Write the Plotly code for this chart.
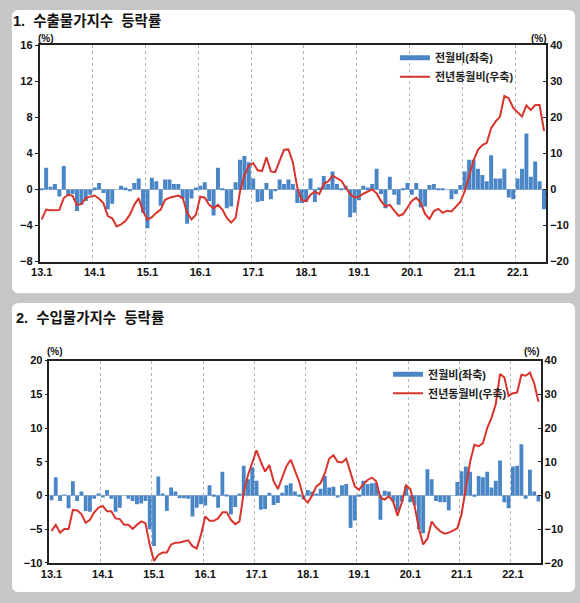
import plotly.graph_objects as go

W, H = 580, 603

# month labels 13.1 ... 22.7
months = [f"{y}.{m}" for y in range(13, 23) for m in range(1, 13)][:115]

# 1. export price index, % change
export_mom = [
    0.1, 2.4, 0.3, 0.6, -0.8, 2.6, -0.6, -0.5, -2.4, -1.7, -1.3, -0.6,
    0.2, 0.7, -0.4, -2.2, -1.6, 0.0, 0.4, 0.2, -0.2, 0.7, 1.2, -2.6,
    -4.3, 1.3, 0.9, -1.8, 1.1, 1.1, 0.6, 0.6, -1.0, -3.8, -1.0, 0.2,
    0.4, 0.8, -1.3, -2.9, 2.4, 0.1, -2.1, -1.9, 0.8, 3.3, 3.7, 3.0,
    1.2, -1.4, -1.3, 0.7, -1.1, -0.2, 1.1, 0.6, 1.1, 0.6, -1.5, -1.5,
    -1.4, 1.2, -1.4, 0.2, 1.5, 0.6, 2.0, 0.6, 0.1, 0.4, -3.1, -2.6,
    -1.2, 0.4, 0.2, 0.6, 2.3, -0.5, -2.1, 1.4, -0.6, -1.7, 0.1, 0.7,
    -0.6, 0.7, -2.0, -1.9, 0.5, 0.6, 0.1, 0.05, 0.0, -1.1, -0.5, 0.5,
    2.0, 3.3, 3.3, 2.3, 1.6, 0.9, 3.8, 1.2, 1.2, 2.3, -0.9, -1.1,
    1.2, 2.3, 6.2, 1.4, 3.1, 0.9, -2.2,
]
export_yoy = [
    -8.3, -5.6, -5.8, -5.8, -5.7, -2.4, -1.5, -1.8, -4.3, -4.1, -2.4, -2.0,
    -1.7, -2.6, -3.8, -7.4, -8.0, -10.3, -9.7, -8.8, -7.0, -4.3, -2.4, -6.1,
    -8.4, -7.7, -6.5, -5.6, -2.9, -2.3, -2.0, -1.7, -2.4, -6.5, -8.3, -7.0,
    -2.0, -2.3, -4.3, -5.2, -4.3, -5.6, -7.9, -9.2, -7.9, -0.6, 3.9, 6.6,
    7.3, 5.3, 5.1, 8.9, 5.0, 4.8, 8.0, 11.0, 11.1, 7.5, 0.5, -2.9,
    -3.3, -1.5, -0.6, -1.3, 1.5, 2.2, 3.8, 3.0, 2.4, 0.5, -1.3, -2.3,
    -2.0, -1.2, -0.5, 0.0, -1.1, -3.2, -4.7, -4.3, -5.9, -7.3, -6.9, -5.2,
    -3.2, -2.3, -3.7, -6.8, -8.2, -6.0, -5.4, -6.5, -5.9, -6.1, -4.8, -3.5,
    -0.5, 3.5, 8.0, 11.0, 12.3, 12.9, 17.0, 18.8, 20.2, 25.9, 25.3, 22.6,
    21.5, 20.2, 23.3, 22.0, 23.4, 23.4, 16.2,
]

# 2. import price index, % change
import_mom = [
    -0.7, 2.7, -0.8, 0.1, -1.9, 2.1, -0.8, 0.6, -2.3, -2.4, -0.5, 0.3,
    -0.3, 0.8, -0.5, -2.4, -1.8, 0.0, -0.5, -0.8, -1.3, -1.2, -0.8, -5.0,
    -7.5, 2.8, 0.2, -2.3, 1.2, 0.6, -0.4, -0.4, -0.5, -3.1, -1.8, -1.3,
    -1.5, 1.5, -0.2, -1.8, 3.5, -0.1, -2.8, -1.7, 0.2, 4.4, 2.4, 4.2,
    2.2, -2.1, -2.0, 0.4, -1.4, -1.1, 0.4, 1.5, 1.8, 0.6, -0.2, -0.6,
    0.8, 0.6, 0.3, 1.0, 2.9, 1.2, 1.3, -0.3, 1.5, 1.7, -4.8, -3.7,
    -0.2, 2.2, 1.7, 1.8, 1.9, -3.6, 0.7, 0.6, -0.9, -2.3, -0.9, 1.4,
    -1.0, -1.5, -5.0, -5.6, 3.9, 2.4, -0.8, -1.0, -1.0, -2.2, 0.0, 2.0,
    3.6, 4.3, 3.5, -0.2, 2.9, 2.7, 3.5, 1.2, 2.2, 5.2, -1.0, -1.9,
    4.3, 4.4, 7.6, -0.5, 3.8, 0.6, -0.9,
]
import_yoy = [
    -10.5, -8.7, -11.0, -9.9, -9.9, -4.3, -4.4, -5.5, -8.1, -7.2, -5.0, -3.6,
    -3.1, -4.7, -4.7, -6.8, -7.0, -8.7, -8.7, -9.9, -8.7, -7.7, -8.2, -14.7,
    -19.4, -17.6, -16.9, -16.9, -14.5, -14.0, -13.9, -13.6, -13.3, -15.0, -15.7, -11.6,
    -6.2, -7.5, -7.5, -6.8, -5.0, -5.0, -7.2, -8.5, -7.7, 0.8, 6.1, 9.7,
    13.4, 10.0, 7.1, 9.0, 4.2, 1.9, 5.1, 8.7, 10.6, 7.3, 4.0, -0.7,
    -2.1, 0.0, 2.7, 3.7, 6.6, 10.9, 11.9, 10.0, 9.8, 10.9, 7.1, 2.7,
    1.7, 3.4, 4.6, 5.3, 4.2, -0.7, -1.2, -0.2, -1.9, -6.0, -2.1, 3.0,
    1.9, -3.1, -9.7, -14.5, -12.8, -7.7, -9.4, -10.6, -11.3, -11.0, -10.4, -9.7,
    -5.5, 1.7, 10.0, 15.0, 14.6, 15.5, 20.0, 23.0, 27.0, 36.0, 35.0, 29.5,
    30.3, 30.5, 35.8, 35.5, 36.4, 33.2, 27.8,
]

BLUE = "#4a86c6"
RED = "#d8342c"
FONT = "Arial, 'Liberation Sans', 'Noto Sans CJK KR', sans-serif"

x_idx = list(range(len(months)))
year_idx = [i for i, m in enumerate(months) if m.split(".")[1] == "1"]
year_txt = [months[i] for i in year_idx]
year_bounds = [i - 0.5 for i in year_idx[1:]]


def px_x(v):
    return v / W


def px_y(v):
    return 1 - v / H


def rounded_box(x0, y0, x1, y1, r=7):
    pts = [
        ("M", x0 + r, y0), ("L", x1 - r, y0), ("Q", x1, y0), ("", x1, y0 + r),
        ("L", x1, y1 - r), ("Q", x1, y1), ("", x1 - r, y1),
        ("L", x0 + r, y1), ("Q", x0, y1), ("", x0, y1 - r),
        ("L", x0, y0 + r), ("Q", x0, y0), ("", x0 + r, y0),
    ]
    path = " ".join(f"{c} {px_x(a):.5f},{px_y(b):.5f}" for c, a, b in pts) + " Z"
    return dict(type="path", path=path, xref="paper", yref="paper",
                fillcolor="white", line=dict(width=0), layer="below")


def add_panel(fig, mom, yoy, xa, ya, ya2, leg):
    # bars keep out of the legend; a flat blue key stands in for them
    fig.add_trace(go.Bar(x=x_idx, y=mom, marker=dict(color=BLUE, line=dict(width=0)),
                         xaxis=xa, yaxis=ya, showlegend=False))
    fig.add_trace(go.Scatter(x=[None], y=[None], mode="lines", name="전월비(좌축)",
                             line=dict(color=BLUE, width=5), xaxis=xa, yaxis=ya, legend=leg))
    fig.add_trace(go.Scatter(x=x_idx, y=yoy, name="전년동월비(우축)", mode="lines",
                             line=dict(color=RED, width=2), xaxis=xa, yaxis=ya2, legend=leg))


fig = go.Figure()
add_panel(fig, export_mom, export_yoy, "x", "y", "y2", "legend")
add_panel(fig, import_mom, import_yoy, "x2", "y3", "y4", "legend2")

tickfont = dict(family=FONT, size=11, color="#111", weight="bold")


def xaxis_cfg(dom, anchor):
    return dict(
        domain=dom, anchor=anchor, range=[-0.5, len(months) - 0.5],
        tickmode="array", tickvals=year_idx, ticktext=year_txt, ticks="",
        showgrid=False, zeroline=False, tickfont=tickfont,
        showline=True, linecolor="#222", linewidth=1.5, mirror=True,
        minor=dict(tickmode="array", tickvals=year_bounds, showgrid=True,
                   gridcolor="#b4b4b4", griddash="dot", gridwidth=1, ticks=""),
    )


def left_cfg(dom, anchor, rng, dt):
    return dict(
        domain=dom, anchor=anchor, range=rng, dtick=dt, showgrid=False,
        zeroline=True, zerolinecolor="#a9bdd3", zerolinewidth=1,
        showline=True, linecolor="#222", linewidth=1.5,
        ticks="outside", ticklen=3, tickcolor="#222", tickfont=tickfont,
    )


def right_cfg(over, anchor, rng, dt):
    return dict(
        overlaying=over, anchor=anchor, side="right", range=rng, dtick=dt,
        showgrid=False, zeroline=False, showline=True, linecolor="#222", linewidth=1.5,
        ticks="inside", ticklen=3, tickcolor="#222", tickfont=tickfont,
    )


top_x = [px_x(31), px_x(545.7)]
top_y = [px_y(260.7), px_y(40)]
bot_x = [px_x(41), px_x(540)]
bot_y = [px_y(568.3), px_y(361.7)]

legend_font = dict(family=FONT, size=11, color="#222", weight="bold")
title_font = dict(family=FONT, size=14.5, color="#111", weight="bold")
pct_font = dict(family=FONT, size=10, color="#111", weight="bold")


def note(text, x, y, font, anchor="center"):
    return dict(text=text, x=px_x(x), y=px_y(y), xref="paper", yref="paper",
                xanchor=anchor, yanchor="middle", showarrow=False, font=font)


fig.update_layout(
    width=W, height=H,
    margin=dict(l=0, r=0, t=0, b=0),
    paper_bgcolor="#c6c6c6", plot_bgcolor="white",
    bargap=0.1, showlegend=True,
    xaxis=xaxis_cfg(top_x, "y"),
    yaxis=left_cfg(top_y, "x", [-8, 16], 4),
    yaxis2=right_cfg("y", "x", [-20, 40], 10),
    xaxis2=xaxis_cfg(bot_x, "y3"),
    yaxis3=left_cfg(bot_y, "x2", [-10, 20], 5),
    yaxis4=right_cfg("y3", "x2", [-20, 40], 10),
    legend=dict(x=px_x(392), y=px_y(38), xanchor="left", yanchor="top",
                bgcolor="rgba(0,0,0,0)", font=legend_font, itemwidth=30, tracegroupgap=0),
    legend2=dict(x=px_x(385), y=px_y(361), xanchor="left", yanchor="top",
                 bgcolor="rgba(0,0,0,0)", font=legend_font, itemwidth=30, tracegroupgap=0),
    shapes=[rounded_box(3, 4, 575, 293), rounded_box(3, 303, 575, 598)],
    annotations=[
        note("1.  수출물가지수  등락률", 2, 15, title_font, "left"),
        note("2.  수입물가지수  등락률", 5, 318, title_font, "left"),
        note("(%)", 38, 33, pct_font),
        note("(%)", 538, 33, pct_font),
        note("(%)", 47, 353, pct_font),
        note("(%)", 531, 353, pct_font),
    ],
)

fig.write_html("out.html", config={"displayModeBar": False},
               post_script="document.body.style.margin='0';document.body.style.overflow='hidden';")
